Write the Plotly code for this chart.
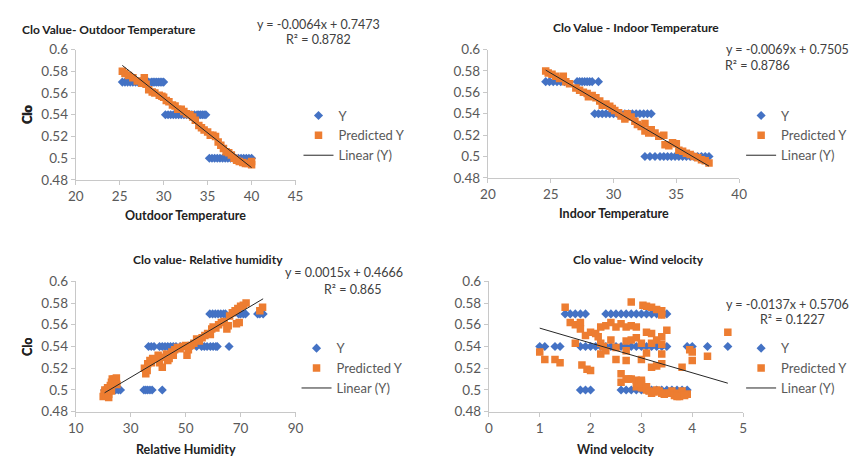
import plotly.graph_objects as go

# ---------------- data ----------------
# Panel 1: Clo vs Outdoor temperature
p1_obs_x = [25.3, 25.6, 25.9, 26.2, 26.5, 26.8, 27.1, 27.4, 27.7, 28.0, 28.3, 28.6, 28.8, 29.0, 29.2, 29.4, 29.6, 29.8, 30.0,
            30.2, 30.5, 30.8, 31.1, 31.4, 31.7, 32.0, 32.3, 32.6, 32.9, 33.2, 33.5, 33.8, 34.0, 34.2, 34.4, 34.6, 34.8,
            35.2, 35.5, 35.8, 36.1, 36.4, 36.7, 37.0, 37.3, 37.6, 37.9, 38.2, 38.5, 38.8, 39.1, 39.4, 39.7, 40.0]
p1_obs_y = [0.57, 0.57, 0.57, 0.57, 0.57, 0.57, 0.57, 0.57, 0.57, 0.57, 0.57, 0.57, 0.57, 0.57, 0.57, 0.57, 0.57, 0.57, 0.57,
            0.54, 0.54, 0.54, 0.54, 0.54, 0.54, 0.54, 0.54, 0.54, 0.54, 0.54, 0.54, 0.54, 0.54, 0.54, 0.54, 0.54, 0.54,
            0.50, 0.50, 0.50, 0.50, 0.50, 0.50, 0.50, 0.50, 0.50, 0.50, 0.50, 0.50, 0.50, 0.50, 0.50, 0.50, 0.50]
p1_pred_x = [25.3, 25.6, 26.0, 26.5, 27.0, 27.5, 27.8, 28.0, 28.3, 28.7, 29.0, 29.5, 29.8, 30.0, 30.3, 30.6, 31.0, 31.3,
             31.6, 32.0, 32.3, 32.6, 33.0, 33.3, 33.6, 34.0, 34.3, 34.6, 35.0, 35.3, 35.6, 35.9, 36.2, 36.5, 36.8, 37.1,
             37.4, 37.7, 38.0, 38.3, 38.6, 39.0, 39.3, 39.6, 40.0, 40.0]
p1_pred_y = [0.580, 0.578, 0.576, 0.574, 0.571, 0.569, 0.574, 0.568, 0.563, 0.561, 0.560, 0.558, 0.557, 0.556, 0.553,
             0.552, 0.549, 0.548, 0.545, 0.545, 0.543, 0.541, 0.540, 0.538, 0.535, 0.530, 0.528, 0.526, 0.524, 0.521,
             0.521, 0.520, 0.515, 0.512, 0.509, 0.506, 0.505, 0.503, 0.500, 0.498, 0.497, 0.496, 0.495, 0.495, 0.494, 0.497]
p1_slope, p1_intercept = -0.0064, 0.7473
p1_eq, p1_r2 = "y = -0.0064x + 0.7473", "R² = 0.8782"

# Panel 2: Clo vs Indoor temperature
p2_obs_x = [24.6, 24.9, 25.2, 25.5, 25.8, 26.1, 27.1, 27.3, 27.5, 27.7, 27.9, 28.1, 28.3, 28.8,
            28.5, 28.8, 29.1, 29.4, 29.7, 30.0, 30.3, 30.6, 30.9, 31.2, 31.5, 31.8, 32.1, 32.4, 32.7, 33.0,
            32.5, 32.9, 33.3, 33.7, 34.0, 34.3, 34.6, 34.9, 35.2, 35.5, 35.8, 36.1, 36.4, 36.7, 37.0, 37.3, 37.6]
p2_obs_y = [0.57, 0.57, 0.57, 0.57, 0.57, 0.57, 0.57, 0.57, 0.57, 0.57, 0.57, 0.57, 0.57, 0.57,
            0.54, 0.54, 0.54, 0.54, 0.54, 0.54, 0.54, 0.54, 0.54, 0.54, 0.54, 0.54, 0.54, 0.54, 0.54, 0.54,
            0.50, 0.50, 0.50, 0.50, 0.50, 0.50, 0.50, 0.50, 0.50, 0.50, 0.50, 0.50, 0.50, 0.50, 0.50, 0.50, 0.50]
p2_pred_x = [24.6, 24.8, 25.1, 25.4, 25.7, 26.0, 26.2, 26.5, 27.0, 27.3, 27.6, 27.9, 28.0, 28.3, 28.6, 28.9, 29.1,
             29.4, 29.7, 29.9, 30.1, 30.4, 30.6, 30.9, 31.1, 31.4, 31.7, 31.9, 32.2, 32.5, 32.5, 32.8, 33.0, 33.3,
             33.6, 34.0, 34.1, 34.4, 34.7, 35.0, 35.2, 35.5, 35.8, 36.1, 36.4, 36.7, 37.0, 37.3, 37.6]
p2_pred_y = [0.580, 0.578, 0.577, 0.575, 0.573, 0.575, 0.570, 0.568, 0.564, 0.562, 0.560, 0.559, 0.556, 0.557, 0.555,
             0.552, 0.548, 0.549, 0.547, 0.545, 0.543, 0.541, 0.538, 0.535, 0.540, 0.537, 0.533, 0.530, 0.528, 0.531,
             0.524, 0.522, 0.525, 0.522, 0.519, 0.520, 0.511, 0.510, 0.513, 0.512, 0.506, 0.505, 0.503, 0.502, 0.500,
             0.499, 0.497, 0.496, 0.494]
p2_slope, p2_intercept = -0.0069, 0.7505
p2_eq, p2_r2 = "y = -0.0069x + 0.7505", "R² = 0.8786"

# Panel 3: Clo vs Relative humidity
p3_obs_x = [20.5, 21.0, 21.5, 22.0, 22.5, 23.5, 24.5, 25.5, 26.3, 34.8, 35.5, 36.2, 37.0, 37.8, 41.5,
            36.5, 37.5, 38.5, 40.5, 41.5, 42.5, 43.5, 44.5, 45.5, 46.5, 48.0, 50.0, 52.0, 54.0, 55.8, 56.8,
            57.8, 59.0, 60.0, 61.0, 61.5, 65.8,
            58.8, 59.8, 60.8, 61.8, 62.8, 63.8, 64.5, 69.3, 70.0, 71.0, 71.8, 76.2, 77.0, 78.2]
p3_obs_y = [0.50, 0.50, 0.50, 0.50, 0.50, 0.50, 0.50, 0.50, 0.50, 0.50, 0.50, 0.50, 0.50, 0.50, 0.50,
            0.54, 0.54, 0.54, 0.54, 0.54, 0.54, 0.54, 0.54, 0.54, 0.54, 0.54, 0.54, 0.54, 0.54, 0.54, 0.54,
            0.54, 0.54, 0.54, 0.54, 0.54, 0.54,
            0.57, 0.57, 0.57, 0.57, 0.57, 0.57, 0.57, 0.57, 0.57, 0.57, 0.57, 0.57, 0.57, 0.57]
p3_pred_x = [20.0, 20.3, 20.6, 21.0, 21.3, 21.6, 22.0, 22.3, 22.6, 23.0, 23.3, 23.6, 24.0, 24.4, 24.8, 25.0, 22.0, 23.0,
             35.0, 35.5, 36.0, 36.2, 37.0, 37.5, 38.0, 40.0, 40.5, 41.5, 42.0, 43.0, 43.5, 44.0, 45.0, 45.5, 46.0,
             47.0, 48.0, 49.0, 50.0, 50.5, 51.0, 52.0, 53.0, 54.0, 55.0, 56.0, 57.0, 58.0, 59.0, 59.5, 60.0, 61.0,
             62.0, 63.0, 64.0, 65.0, 65.5, 66.0, 67.0, 68.0, 68.5, 69.0, 69.5, 70.0, 71.0, 72.0, 77.0, 78.0]
p3_pred_y = [0.494, 0.497, 0.500, 0.495, 0.499, 0.502, 0.496, 0.501, 0.504, 0.507, 0.510, 0.506, 0.510, 0.508, 0.511,
             0.505, 0.493, 0.499,
             0.520, 0.515, 0.518, 0.524, 0.527, 0.525, 0.529, 0.532, 0.525, 0.521, 0.530, 0.533, 0.527, 0.529, 0.535,
             0.532, 0.537, 0.539, 0.538, 0.540, 0.541, 0.532, 0.537, 0.541, 0.543, 0.547, 0.545, 0.548, 0.550, 0.552,
             0.551, 0.556, 0.558, 0.557, 0.560, 0.562, 0.563, 0.556, 0.559, 0.568, 0.571, 0.573, 0.561, 0.575, 0.562,
             0.577, 0.578, 0.580, 0.573, 0.576]
p3_slope, p3_intercept = 0.0015, 0.4666
p3_eq, p3_r2 = "y = 0.0015x + 0.4666", "R² = 0.865"

# Panel 4: Clo vs Wind velocity
p4_obs_x = [1.0, 1.1, 1.3, 1.4, 1.8, 1.9, 2.0, 2.1, 2.2, 2.3, 2.4, 2.5, 2.6, 2.7, 2.8, 2.9, 3.0, 3.1, 3.2, 3.3, 3.4,
            3.5, 3.9, 4.0, 4.3, 4.7,
            1.5, 1.6, 1.7, 1.8, 1.9, 2.3, 2.4, 2.5, 2.6, 2.7, 2.8, 2.9, 3.0, 3.1, 3.2, 3.3, 3.4, 3.5,
            1.8, 1.9, 2.0, 2.6, 2.7, 2.8, 2.9, 3.0, 3.1, 3.2, 3.3, 3.4, 3.5, 3.6, 3.7, 3.8, 3.9]
p4_obs_y = [0.54, 0.54, 0.54, 0.54, 0.54, 0.54, 0.54, 0.54, 0.54, 0.54, 0.54, 0.54, 0.54, 0.54, 0.54, 0.54, 0.54,
            0.54, 0.54, 0.54, 0.54, 0.54, 0.54, 0.54, 0.54, 0.54,
            0.57, 0.57, 0.57, 0.57, 0.57, 0.57, 0.57, 0.57, 0.57, 0.57, 0.57, 0.57, 0.57, 0.57, 0.57, 0.57, 0.57, 0.57,
            0.50, 0.50, 0.50, 0.50, 0.50, 0.50, 0.50, 0.50, 0.50, 0.50, 0.50, 0.50, 0.50, 0.50, 0.50, 0.50, 0.50]
p4_pred_x = [1.0, 1.1, 1.3, 1.4, 1.5, 1.6, 1.7, 1.7, 1.8, 1.8, 1.83, 1.9, 1.93, 2.0, 2.0, 2.1, 2.15, 2.2, 2.2, 2.2,
             2.25, 2.3, 2.3, 2.4, 2.4, 2.5, 2.5, 2.5, 2.6, 2.6, 2.6, 2.7, 2.7, 2.7, 2.7, 2.7, 2.8, 2.8, 2.8, 2.8,
             2.9, 2.9, 2.9, 2.9, 3.0, 3.0, 3.0, 3.0, 3.03, 3.1, 3.1, 3.1, 3.1, 3.2, 3.2, 3.2, 3.2, 3.2, 3.3, 3.3,
             3.3, 3.3, 3.4, 3.4, 3.4, 3.4, 3.4, 3.4, 3.4, 3.5, 3.5, 3.6, 3.7, 3.75, 3.8, 3.8, 3.9, 3.9, 3.95, 4.0,
             4.0, 4.3, 4.7, 3.0, 3.05, 3.1, 3.15, 3.25, 3.35, 3.45, 3.55, 3.65, 3.7, 3.85, 2.95, 3.0, 2.75]
p4_pred_y = [0.535, 0.528, 0.528, 0.525, 0.576, 0.562, 0.560, 0.543, 0.562, 0.556, 0.523, 0.550, 0.519, 0.518, 0.553,
             0.552, 0.549, 0.558, 0.543, 0.533, 0.540, 0.536, 0.559, 0.562, 0.546, 0.558, 0.539, 0.528, 0.561, 0.515,
             0.507, 0.558, 0.545, 0.536, 0.527, 0.510, 0.559, 0.581, 0.546, 0.510, 0.558, 0.548, 0.509, 0.503, 0.543,
             0.528, 0.507, 0.502, 0.578, 0.577, 0.553, 0.534, 0.500, 0.576, 0.552, 0.543, 0.521, 0.497, 0.574, 0.546,
             0.522, 0.500, 0.573, 0.569, 0.549, 0.542, 0.533, 0.524, 0.497, 0.555, 0.497, 0.499, 0.497, 0.494, 0.521,
             0.499, 0.496, 0.496, 0.537, 0.535, 0.527, 0.531, 0.553, 0.505, 0.502, 0.503, 0.499, 0.498, 0.499, 0.496,
             0.497, 0.495, 0.494, 0.495, 0.506, 0.509, 0.510]
p4_slope, p4_intercept = -0.0137, 0.5706
p4_eq, p4_r2 = "y = -0.0137x + 0.5706", "R² = 0.1227"

titles = ["Clo Value- Outdoor Temperature", "Clo Value - Indoor Temperature",
          "Clo value- Relative humidity", "Clo value- Wind velocity"]
x_titles = ["Outdoor Temperature", "Indoor Temperature", "Relative Humidity", "Wind velocity"]
y_title = "Clo"
series_names = ["Y", "Predicted Y", "Linear (Y)"]
y_tickvals = [0.48, 0.50, 0.52, 0.54, 0.56, 0.58, 0.60]
y_ticktext = ["0.48", "0.5", "0.52", "0.54", "0.56", "0.58", "0.6"]
x_ranges = [[20, 45], [20, 40], [10, 90], [0, 5]]
x_dticks = [5, 5, 20, 1]

# ---------------- layout geometry (pixels) ----------------
W, H = 861, 467
BLUE, ORANGE = "#4472C4", "#ED7D31"
FONT = "Lato, 'Open Sans', sans-serif"
GRAY = "#595959"

# plot-area boxes: x0, x1, ytop, ybottom
boxes = [(69, 293, 43, 178), (489, 745, 43, 176), (69, 293, 283, 418), (490, 749, 283, 418)]
legend_pos = [(296, 132), (747, 132), (294, 373), (747, 373)]
title_pos = [(12, 22, "left"), (640, 20, "center"), (204, 260, "center"), (642, 260, "center")]
# equation: (x, anchor, y) ; R2: (x, y)
eq_pos = [((316, "center", 17), (316, 33)), ((859, "right", 43), (764, 60)),
          ((405, "right", 274), (352, 291)), ((859, "right", 307), (799, 323))]
xtitle_y = [215, 213, 457, 457]

panels = [
    (p1_obs_x, p1_obs_y, p1_pred_x, p1_pred_y, p1_slope, p1_intercept, p1_eq, p1_r2),
    (p2_obs_x, p2_obs_y, p2_pred_x, p2_pred_y, p2_slope, p2_intercept, p2_eq, p2_r2),
    (p3_obs_x, p3_obs_y, p3_pred_x, p3_pred_y, p3_slope, p3_intercept, p3_eq, p3_r2),
    (p4_obs_x, p4_obs_y, p4_pred_x, p4_pred_y, p4_slope, p4_intercept, p4_eq, p4_r2),
]

def px(x):
    return x / W

def py(y):
    return 1 - y / H

fig = go.Figure()
annotations = []
layout = {}

for i, (ox, oy, prx, pry, slope, icpt, eq, r2) in enumerate(panels):
    n = i + 1
    xa = "x" if n == 1 else f"x{n}"
    ya = "y" if n == 1 else f"y{n}"
    leg = "legend" if n == 1 else f"legend{n}"
    x0, x1, yt, yb = boxes[i]

    fig.add_trace(go.Scatter(x=ox, y=oy, mode="markers", name=series_names[0], xaxis=xa, yaxis=ya, legend=leg,
                             marker=dict(symbol="diamond", size=7, color=BLUE)))
    fig.add_trace(go.Scatter(x=prx, y=pry, mode="markers", name=series_names[1], xaxis=xa, yaxis=ya, legend=leg,
                             marker=dict(symbol="square", size=7.5, color=ORANGE)))
    lx = [min(ox), max(ox)]
    ly = [slope * v + icpt for v in lx]
    fig.add_trace(go.Scatter(x=lx, y=ly, mode="lines", name=series_names[2], xaxis=xa, yaxis=ya, legend=leg,
                             line=dict(color="#262626", width=1)))

    axis_common = dict(showgrid=False, zeroline=False, showline=True, linecolor="#c8c8c8", linewidth=1,
                       ticks="outside", tickcolor="#c8c8c8", ticklen=4,
                       tickfont=dict(family=FONT, size=13.5, color=GRAY), fixedrange=True)
    layout["xaxis" if n == 1 else f"xaxis{n}"] = dict(
        domain=[px(x0), px(x1)], anchor=ya, range=x_ranges[i], dtick=x_dticks[i], tick0=x_ranges[i][0],
        **axis_common)
    layout["yaxis" if n == 1 else f"yaxis{n}"] = dict(
        domain=[py(yb), py(yt)], anchor=xa, range=[0.48, 0.60], tickvals=y_tickvals, ticktext=y_ticktext,
        **axis_common)

    lxp, lyp = legend_pos[i]
    layout[leg] = dict(x=px(lxp), y=py(lyp), xanchor="left", yanchor="middle", bgcolor="rgba(0,0,0,0)",
                       font=dict(family=FONT, size=13, color=GRAY), itemclick=False, itemdoubleclick=False)

    tx, ty, al = title_pos[i]
    annotations.append(dict(text=f"<b>{titles[i]}</b>", x=px(tx), y=py(ty), xref="paper", yref="paper",
                            xanchor=al, yanchor="middle", showarrow=False,
                            font=dict(family=FONT, size=12, color="#222222")))
    annotations.append(dict(text=f"<b>{x_titles[i]}</b>", x=px((x0 + x1) / 2), y=py(xtitle_y[i]),
                            xref="paper", yref="paper", xanchor="center", yanchor="middle", showarrow=False,
                            font=dict(family=FONT, size=12.5, color="#222222")))
    annotations.append(dict(text=f"<b>{y_title}</b>", x=px(20), y=py((yt + yb) / 2), xref="paper", yref="paper",
                            xanchor="center", yanchor="middle", showarrow=False, textangle=-90,
                            font=dict(family=FONT, size=12.5, color="#222222")))
    (ex, eanc, ey1), (rx, ry) = eq_pos[i]
    annotations.append(dict(text=eq, x=px(ex), y=py(ey1), xref="paper", yref="paper", xanchor=eanc,
                            yanchor="middle", showarrow=False, font=dict(family=FONT, size=12.5, color="#404040")))
    annotations.append(dict(text=r2, x=px(rx), y=py(ry), xref="paper", yref="paper", xanchor="center",
                            yanchor="middle", showarrow=False, font=dict(family=FONT, size=12.5, color="#404040")))

fig.update_layout(width=W, height=H, margin=dict(l=0, r=0, t=0, b=0), paper_bgcolor="white",
                  plot_bgcolor="white", showlegend=True, annotations=annotations, **layout)

fig.write_html("out.html", config={"displayModeBar": False},
               post_script="document.body.style.margin='0';document.body.style.overflow='hidden';")
